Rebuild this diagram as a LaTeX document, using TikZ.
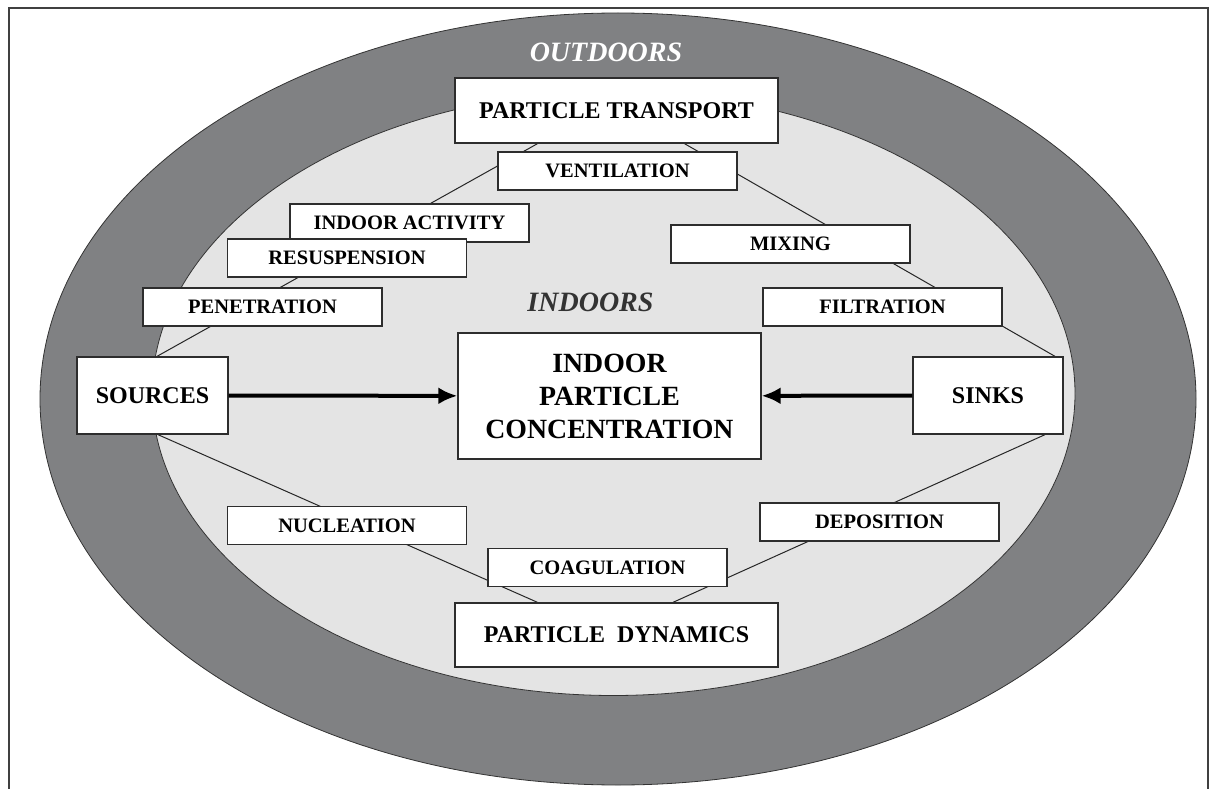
\documentclass[tikz,border=0pt]{standalone}
\usepackage{fontspec}
\setmainfont{Liberation Serif}
\usetikzlibrary{arrows.meta}
\pgfdeclarelayer{ring}
\pgfdeclarelayer{links}
\pgfsetlayers{ring,links,main}
\tikzset{%
	smallbox/.style={rectangle, draw=BoxLine, fill=white, line width=1.3pt,
		minimum width=239pt, minimum height=38pt, inner sep=0pt,
		text=black, font=\fontsize{20.5}{24}\selectfont\bfseries},
	bigbox/.style={rectangle, draw=BoxLine, fill=white, line width=1.3pt,
		inner sep=0pt, align=center, text=black,
		font=\fontsize{24}{28}\selectfont\bfseries},
	region/.style={font=\fontsize{28}{32}\selectfont\bfseries\itshape},
	link/.style={draw=black!85, line width=1pt},
	flow/.style={line width=4pt, -{Latex[length=19pt,width=17pt]}},
}
\definecolor{OutGray}{RGB}{128,129,131}
\definecolor{InGray}{RGB}{228,228,228}
\definecolor{BoxLine}{RGB}{45,45,45}

\begin{document}
\begin{tikzpicture}[x=1pt,y=-1pt]
    \useasboundingbox (0,0) rectangle (1216,789);

    \begin{pgfonlayer}{ring}
    \draw[line width=2pt, draw=black!75] (9,789) |- (1208,8) -- (1208,789);
    \draw[fill=OutGray, draw=black!80, line width=0.8pt] (618,399) ellipse [x radius=578, y radius=386];
    \draw[fill=InGray, draw=black!80, line width=0.8pt] (613.5,393.5) ellipse [x radius=461.5, y radius=302];
    \end{pgfonlayer}

    \node [region, text=white] (Outdoors) at (606,52) {OUTDOORS};
    \node [region, text=black!80] (Indoors) at (590.5,302) {INDOORS};

    % main boxes
    \node [bigbox, minimum width=323pt, minimum height=65pt] (Transport) at (616.5,110.5) {PARTICLE TRANSPORT};
    \node [bigbox, minimum width=303pt, minimum height=126pt,
        font=\fontsize{27.8}{33}\selectfont\bfseries] (Conc) at (609.5,396) {INDOOR\\PARTICLE\\CONCENTRATION};
    \node [bigbox, minimum width=151pt, minimum height=77pt] (Sources) at (152.5,395.5) {SOURCES};
    \node [bigbox, minimum width=150pt, minimum height=77pt] (Sinks) at (988,395.5) {SINKS};
    \node [bigbox, minimum width=323pt, minimum height=64pt] (Dynamics) at (616.5,635) {PARTICLE~~DYNAMICS};

    % processes
    \node [smallbox] (Ventilation) at (617.5,171) {VENTILATION};
    \node [smallbox] (Activity) at (409.5,223) {INDOOR ACTIVITY};
    \node [smallbox] (Resuspension) at (347,258) {RESUSPENSION};
    \node [smallbox] (Penetration) at (262.5,307) {PENETRATION};
    \node [smallbox] (Mixing) at (790.5,244) {MIXING};
    \node [smallbox] (Filtration) at (882.5,307) {FILTRATION};
    \node [smallbox] (Nucleation) at (347,525.5) {NUCLEATION};
    \node [smallbox] (Coagulation) at (607.5,567.5) {COAGULATION};
    \node [smallbox] (Deposition) at (879.5,522) {DEPOSITION};

    \begin{pgfonlayer}{links}
    \draw[link] ([xshift=4.5pt]Sources.north) -- ([xshift=-79pt]Transport.south);
    \draw[link] ([xshift=68pt]Transport.south) -- ([xshift=67pt]Sinks.north);
    \draw[link] ([xshift=5.5pt]Sources.south) -- ([xshift=-79pt]Dynamics.north);
    \draw[link] ([xshift=57pt]Sinks.south) -- ([xshift=56.5pt]Dynamics.north);
    \end{pgfonlayer}

    \draw[flow] (Sources) -- (Conc);
    \draw[flow] (Sinks) -- (Conc);

\end{tikzpicture}
\end{document}
